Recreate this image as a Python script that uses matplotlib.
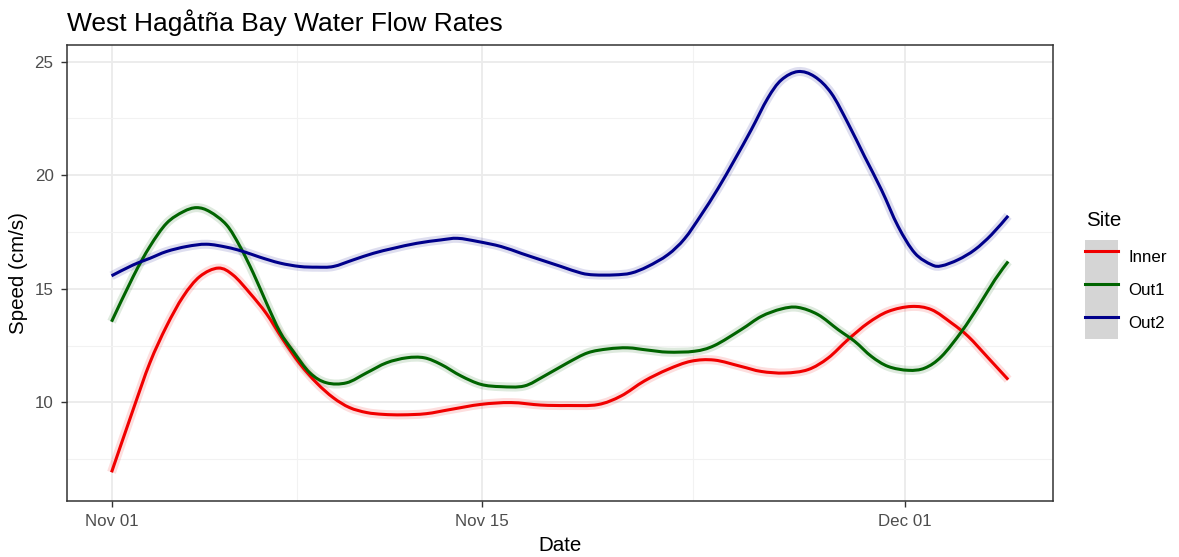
import numpy as np
import pandas as pd
import matplotlib
matplotlib.use("Agg")
import matplotlib.pyplot as plt
import matplotlib.dates as mdates
from matplotlib.path import Path
from matplotlib.patches import Patch, PathPatch
from matplotlib.lines import Line2D
from matplotlib.legend_handler import HandlerTuple

plt.rcParams['font.family'] = ['Liberation Sans', 'DejaVu Sans']

# Smoothed flow speed (cm/s) per site, sampled at day offsets from Nov 01
start_date = pd.Timestamp("2019-11-01")

inner_day = [0.0, 0.82, 1.45, 2.08, 2.71, 3.34, 4.04, 4.6, 5.23, 5.86, 6.49, 7.12,
             7.76, 8.39, 9.0, 9.65, 10.28, 11.0, 11.9, 12.84, 13.97, 15.11, 16.24,
             17.25, 18.39, 19.27, 20.15, 21.04, 21.92, 22.8, 23.81, 24.57, 25.46,
             26.34, 27.1, 27.85, 28.61, 29.37, 30.25, 31.01, 31.77, 32.4, 33.16, 33.91]
inner_speed = [6.92, 9.69, 11.74, 13.35, 14.66, 15.54, 15.91, 15.6, 14.81, 13.9, 12.75, 11.7,
               10.85, 10.2, 9.77, 9.55, 9.47, 9.45, 9.5, 9.69, 9.91, 9.99, 9.88,
               9.86, 9.9, 10.28, 10.94, 11.45, 11.81, 11.86, 11.58, 11.36, 11.29,
               11.44, 11.95, 12.76, 13.49, 14.0, 14.22, 14.08, 13.49, 12.9, 11.95, 11.0]

out1_day = [0.0, 0.82, 1.45, 2.08, 2.71, 3.22, 3.72, 4.35, 4.86, 5.36, 5.86, 6.37,
            6.87, 7.5, 8.13, 8.89, 9.65, 10.4, 11.16, 11.83, 12.46, 13.22, 13.97,
            14.73, 15.61, 16.37, 17.25, 18.01, 18.77, 19.52, 20.28, 21.04, 22.05,
            22.8, 23.81, 24.57, 25.33, 25.96, 26.72, 27.48, 28.11, 28.74, 29.37,
            30.13, 30.76, 31.39, 32.15, 32.78, 33.41, 33.91]
out1_speed = [13.55, 15.54, 16.86, 17.88, 18.39, 18.57, 18.39, 17.81, 16.86, 15.69, 14.37, 13.1,
              12.25, 11.3, 10.86, 10.86, 11.3, 11.74, 11.96, 11.96, 11.67, 11.16, 10.79,
              10.69, 10.72, 11.16, 11.74, 12.18, 12.35, 12.4, 12.3, 12.21, 12.25,
              12.5, 13.2, 13.78, 14.11, 14.18, 13.86, 13.2, 12.68, 12.02, 11.58,
              11.41, 11.51, 12.02, 13.12, 14.22, 15.4, 16.2]

out2_day = [0.0, 0.82, 1.45, 2.08, 2.84, 3.59, 4.35, 4.98, 5.61, 6.37, 7.12, 7.76,
            8.39, 9.14, 9.9, 10.66, 11.54, 12.46, 13.09, 13.85, 14.73, 15.49, 16.24,
            17.0, 17.76, 18.26, 19.02, 19.65, 20.28, 21.04, 21.67, 22.3, 22.93,
            23.56, 24.19, 24.82, 25.33, 25.96, 26.59, 27.22, 27.85, 28.48, 29.12,
            29.75, 30.38, 31.01, 31.39, 32.02, 32.65, 33.28, 33.91]
out2_speed = [15.57, 16.05, 16.34, 16.64, 16.86, 16.96, 16.83, 16.64, 16.39, 16.13, 15.98, 15.95,
              15.98, 16.27, 16.56, 16.78, 17.0, 17.15, 17.22, 17.08, 16.86, 16.56, 16.27,
              15.98, 15.69, 15.61, 15.61, 15.69, 15.98, 16.5, 17.2, 18.25, 19.4,
              20.67, 21.99, 23.39, 24.19, 24.56, 24.34, 23.61, 22.29, 20.82, 19.35,
              17.74, 16.57, 16.06, 16.01, 16.28, 16.72, 17.38, 18.21]

sites = ["Inner", "Out1", "Out2"]
site_days = {"Inner": inner_day, "Out1": out1_day, "Out2": out2_day}
site_speeds = {"Inner": inner_speed, "Out1": out1_speed, "Out2": out2_speed}
site_colors = {"Inner": "#f00000", "Out1": "#006400", "Out2": "#00008b"}

x_ticks = ["2019-11-01", "2019-11-15", "2019-12-01"]
x_minor = ["2019-11-08", "2019-11-23"]
y_ticks = [10, 15, 20, 25]
y_minor = [7.5, 12.5, 17.5, 22.5]


def smooth_path(x, y):
    """Cubic Bezier path passing through every (x, y) sample (Catmull-Rom tangents)."""
    pts = np.column_stack([x, y])
    n = len(pts)
    verts, codes = [pts[0]], [Path.MOVETO]
    for i in range(n - 1):
        p0 = pts[i - 1] if i > 0 else pts[i]
        p1, p2 = pts[i], pts[i + 1]
        p3 = pts[i + 2] if i + 2 < n else pts[i + 1]
        verts += [p1 + (p2 - p0) / 6, p2 - (p3 - p1) / 6, p2]
        codes += [Path.CURVE4] * 3
    return Path(np.array(verts), codes)


W, H = 1179, 557
fig = plt.figure(figsize=(W / 100, H / 100), dpi=100)
left, right, top, bottom = 66.7, 1053, 45, 500.7
ax = fig.add_axes([left / W, 1 - bottom / H, (right - left) / W, (bottom - top) / H])

# Axis ranges with 5% expansion on the date span
all_days = np.concatenate([inner_day, out1_day, out2_day])
span = all_days.max() - all_days.min()
x0 = start_date + pd.Timedelta(days=all_days.min() - 0.05 * span)
x1 = start_date + pd.Timedelta(days=all_days.max() + 0.05 * span)
ax.set_xlim(x0, x1)
ax.set_ylim(5.67, 25.73)

for site in sites:
    dates = start_date + pd.to_timedelta(np.array(site_days[site]), unit="D")
    xnum = mdates.date2num(dates.to_pydatetime())
    path = smooth_path(xnum, np.array(site_speeds[site]))
    # confidence band halo, then the fitted line
    ax.add_patch(PathPatch(path, fill=False, edgecolor=site_colors[site], alpha=0.13,
                           lw=6.5, capstyle="butt", joinstyle="round", zorder=2))
    ax.add_patch(PathPatch(path, fill=False, edgecolor=site_colors[site],
                           lw=2.2, capstyle="butt", joinstyle="round", zorder=3))

ax.set_xticks(pd.to_datetime(x_ticks))
ax.set_xticks(pd.to_datetime(x_minor), minor=True)
ax.xaxis.set_major_formatter(mdates.DateFormatter("%b %d"))
ax.set_yticks(y_ticks)
ax.set_yticks(y_minor, minor=True)

ax.grid(True, which="major", color="#ebebeb", lw=1.3, zorder=0)
ax.grid(True, which="minor", color="#f2f2f2", lw=0.8, zorder=0)
ax.set_axisbelow(True)

for s in ax.spines.values():
    s.set_color("#333333")
    s.set_linewidth(1.1)

ax.tick_params(which="major", direction="out", length=4, width=1.0, color="#333333",
               labelsize=12.2, labelcolor="#4d4d4d", pad=5.5)
ax.tick_params(which="minor", length=0)

ax.set_xlabel("Date", fontsize=14.8, color="black", labelpad=5)
ax.set_ylabel("Speed (cm/s)", fontsize=14.8, color="black", labelpad=5)

fig.text(left / W, 1 - 31.5 / H, "West Hagåtña Bay Water Flow Rates", fontsize=19,
         ha="left", va="baseline", color="black")

# Legend: title text above contiguous grey keys
fig.text(1086 / W, 1 - 220 / H, "Site", fontsize=14.8, ha="left", va="center",
         color="black")
handles = [(Patch(facecolor="#d5d5d5", edgecolor="none"),
            Line2D([], [], color=site_colors[s], lw=2.2)) for s in sites]
leg = fig.legend(handles, sites, loc="upper left",
                 bbox_to_anchor=(1085 / W, 1 - 240 / H),
                 frameon=False, fontsize=12.2,
                 handler_map={tuple: HandlerTuple(ndivide=1, pad=0)},
                 handlelength=1.95, handleheight=2.62, labelspacing=0,
                 handletextpad=0.6, borderpad=0, borderaxespad=0)

fig.savefig("out.png", dpi=100)
